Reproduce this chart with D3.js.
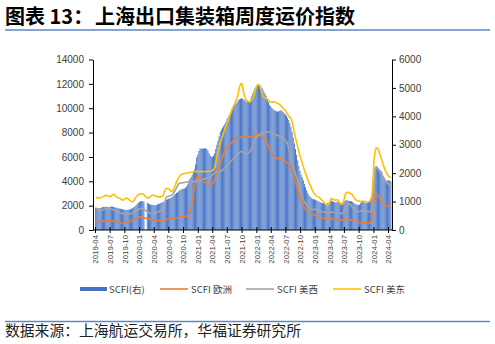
<!DOCTYPE html>
<html><head><meta charset="utf-8">
<script src="https://cdn.jsdelivr.net/npm/d3@7"></script>
<style>body{margin:0;background:#fff;} svg{display:block;}</style>
</head><body><svg id="c" width="495" height="344"></svg>
<script>
// ---------- DATA ----------
const firstWeek = "2019-04-05"; // weekly (Fridays)
const scfi = [
790,780,770,760,775,790,800,810,805,815,820,810,800,
820,830,825,810,800,790,780,770,760,750,740,730,720,
715,705,710,715,720,730,750,780,800,830,870,920,960,
990,1010,1020,1015,1000,null,null,960,930,910,895,890,885,
880,870,880,900,920,930,950,960,980,1000,1030,1060,1080,
1100,1110,1130,1160,1190,1230,1270,1300,1330,1360,1400,1420,1440,
1450,1460,1490,1530,1600,1700,1800,1860,1940,2050,2130,2310,2550,
2640,2780,2870,2860,2880,2860,2870,2880,2850,2800,2700,2620,2570,
2580,2610,2700,2850,3000,3150,3300,3450,3530,3600,3660,3720,3800,
3900,3980,4050,4150,4230,4290,4340,4400,4450,4500,4560,4600,4620,
4640,4620,4600,4560,4530,4520,4510,4530,4600,4700,4800,4900,5000,
5050,5080,5100,5110,5080,5010,4950,4850,4780,4700,4600,4500,4400,
4350,4300,4250,4220,4200,4180,4170,4175,4200,4210,4200,4150,4100,
4070,4020,3950,3870,3760,3620,3450,3250,3050,2850,2650,2450,2250,
2080,1950,1850,1750,1620,1500,1400,1310,1230,1170,1130,1100,1080,
1080,1060,1040,1020,1000,980,960,950,940,930,930,940,950,
970,1000,1030,1010,990,980,970,990,1000,980,960,950,955,
970,1020,1050,1040,1030,1010,1020,1010,990,950,920,900,890,
880,890,940,990,1000,980,960,950,960,990,1000,1100,1250,
1760,2000,2200,2240,2220,2170,2120,2100,2050,1900,1800,1780,1730,
1740,1760,1740,1720];
const europe = [
720,700,680,670,680,700,720,740,760,770,760,750,740,
760,780,770,750,720,700,680,650,620,600,580,560,550,
560,580,620,680,720,760,790,810,840,870,900,960,1020,
1060,1080,1070,1040,1000,980,960,940,920,900,880,860,850,
830,810,790,780,770,760,760,770,780,800,830,860,890,
920,940,950,960,970,980,990,1000,1010,1030,1050,1080,1100,
1100,1110,1120,1130,1150,1200,1350,1700,2300,2900,3500,4000,4350,
4430,4400,4300,4150,4000,3950,3900,3850,3800,3750,3700,3700,3720,
3800,3950,4110,4350,4600,4930,5200,5500,5750,6020,6250,6450,6650,
6800,6900,7000,7100,7150,7250,7350,7420,7500,7550,7580,7600,7620,
7630,7640,7650,7650,7640,7630,7640,7660,7680,7700,7720,7760,7800,
7850,7880,7860,7820,7760,7680,7600,7520,7420,7300,7100,6850,6600,
6400,6250,6150,6050,5980,5920,5880,5870,5860,5850,5820,5780,5720,
5650,5580,5500,5400,5250,5050,4800,4550,4250,3950,3600,3300,3000,
2700,2460,2250,2050,1860,1720,1620,1520,1440,1380,1340,1300,1260,
1220,1180,1140,1100,1060,1030,1000,980,960,950,940,930,920,
920,910,900,890,880,870,860,860,850,840,830,820,810,
830,950,960,920,880,850,830,810,800,790,760,720,690,
650,620,600,580,600,640,660,640,620,600,580,560,900,
1600,2500,2850,2900,2880,2800,2650,2500,2350,2250,2150,2050,2000,
1950,1920,1900,1900];
const usWest = [
1780,1760,1720,1680,1640,1620,1640,1680,1720,1760,1780,1760,1740,
1720,1700,1680,1650,1600,1560,1520,1480,1440,1400,1380,1360,1340,
1320,1300,1290,1290,1310,1330,1360,1400,1450,1520,1580,1640,1700,
1740,1770,1780,1760,1720,1650,1550,1480,1420,1380,1370,1360,1370,
1380,1400,1420,1450,1500,1560,1600,1620,1650,2000,2450,2700,2750,
2780,2820,2850,2880,2950,3100,3280,3450,3650,3800,3850,3860,3870,
3880,3900,3920,3940,3960,3970,3970,3960,3960,3970,3980,3990,4000,
4020,4050,4080,4120,4150,4180,4200,4220,4240,4260,4280,4300,4400,
4500,4600,4700,4750,4790,4800,4810,4830,4860,4900,5000,5100,5200,
5300,5400,5500,5600,5700,5780,5850,5950,6050,6150,6250,6350,6430,
6450,6420,6380,6340,6300,6280,6300,6400,6550,6750,7000,7250,7450,
7600,7680,7720,7800,7880,7950,8000,8030,8060,8080,8070,8050,8020,
8000,7970,7940,7900,7860,7820,7780,7740,7700,7650,7600,7550,7480,
7380,7250,7050,6750,6450,6100,5750,5350,4950,4600,4300,4000,3700,
3350,3050,2750,2500,2300,2150,2050,1950,1850,1780,1720,1680,1650,
1700,1680,1650,1620,1580,1550,1520,1500,1480,1460,1450,1440,1430,
1430,1450,1480,1470,1450,1440,1420,1400,1380,1370,1360,1350,1380,
1500,1700,1850,2000,2100,2150,2100,1950,1800,1700,1620,1580,1550,
1520,1500,1540,1600,1650,1620,1580,1550,1540,1520,1500,1520,1600,
2400,3800,5000,5200,5100,4950,4800,4700,4550,4400,4250,4100,3950,
3850,3750,3700,3650];
const usEast = [
2680,2660,2640,2620,2640,2680,2720,2760,2800,2840,2860,2820,2760,
2720,2800,2900,2940,2860,2760,2680,2620,2600,2580,2500,2450,2480,
2560,2620,2600,2550,2480,2400,2340,2320,2400,2550,2700,2820,2900,
2950,2980,2990,2960,2900,2800,2700,2640,2620,2680,2760,2840,2870,
2840,2800,2760,2740,2720,2720,2740,2760,2800,3100,3300,3420,3400,
3380,3300,3200,3150,3250,3450,3700,3950,4150,4300,4450,4550,4600,
4620,4640,4650,4660,4680,4700,4720,4740,4760,4780,4790,4790,4800,
4800,4800,4790,4790,4780,4790,4800,4800,4800,4800,4810,4820,4850,
4880,4920,5100,5500,6000,6400,6800,7100,7400,7700,8000,8300,8550,
8760,9000,9250,9500,9800,10000,10200,10400,10600,10800,11200,11700,11950,
12050,11700,11200,10900,10700,10600,10550,10500,10550,10700,10850,11000,11400,
11700,11900,11950,11850,11600,11300,11000,10900,10850,10800,10750,10650,10550,
10500,10500,10520,10530,10500,10450,10400,10350,10300,10200,10100,10000,9900,
9800,9650,9500,9350,9250,9150,8900,8500,8000,7600,7200,6800,6400,
6100,5800,5500,5200,4900,4650,4400,4150,3900,3700,3500,3300,3100,
2950,2850,2780,2740,2700,2600,2500,2400,2300,2200,2100,2050,2080,
2200,2400,2600,2550,2480,2450,2460,2480,2440,2300,2150,2100,2150,
2400,2800,3050,3100,3080,3050,3000,2950,2850,2700,2550,2450,2400,
2380,2360,2340,2350,2380,2360,2340,2320,2300,2320,2350,2500,2750,
3900,5750,6500,6750,6700,6550,6300,6000,5700,5400,5150,4900,4700,
4550,4400,4350,4300];
const xTickLabels = ["2019-04","2019-07","2019-10","2020-01","2020-04","2020-07","2020-10",
"2021-01","2021-04","2021-07","2021-10","2022-01","2022-04","2022-07","2022-10",
"2023-01","2023-04","2023-07","2023-10","2024-01","2024-04"];
const leftTicks = [0,2000,4000,6000,8000,10000,12000,14000];
const rightTicks = [0,1000,2000,3000,4000,5000,6000];
const seriesNames = ["SCFI(右)","SCFI 欧洲","SCFI 美西","SCFI 美东"];
const seriesColors = ["#4472C4","#ED7D31","#A5A5A5","#FFC000"];
const titleLead = "图表 13：";
const titleText = "上海出口集装箱周度运价指数";
const sourceText = "数据来源：上海航运交易所，华福证券研究所";

// ---------- CHART ----------
const svg = d3.select("#c");
const parseM = d3.timeParse("%Y-%m");
const start = d3.timeParse("%Y-%m-%d")(firstWeek);
const dates = scfi.map((_, i) => d3.timeDay.offset(start, 7 * i));
const tickDates = xTickLabels.map(parseM);

const plot = {left: 93, right: 392, top: 59.5, bottom: 230};
const x = d3.scaleTime().domain([tickDates[0], tickDates[tickDates.length - 1]]).range([95, 388]);
const yL = d3.scaleLinear().domain([0, 14000]).range([plot.bottom, plot.top]);
const yR = d3.scaleLinear().domain([0, 6000]).range([plot.bottom, plot.top]);

// title
const tf = "'Noto Sans CJK SC', sans-serif";
svg.append("text").attr("x", 5).attr("y", 24).attr("font-family", tf).attr("font-weight", "bold")
  .attr("font-size", 20).attr("fill", "#000").text(titleLead);
svg.append("text").attr("x", 95).attr("y", 24).attr("font-family", tf).attr("font-weight", "bold")
  .attr("font-size", 20).attr("fill", "#000").text(titleText);
svg.append("line").attr("x1", 5).attr("x2", 490).attr("y1", 30).attr("y2", 30)
  .attr("stroke", "#5B86C8").attr("stroke-width", 1.5);

// bars
const step = x(dates[1]) - x(dates[0]);
const bw = step * 0.85;
svg.append("g").selectAll("rect").data(scfi.map((v, i) => ({v, d: dates[i]})).filter(o => o.v != null))
  .join("rect")
  .attr("x", o => x(o.d) - bw / 2).attr("width", bw)
  .attr("y", o => yR(o.v)).attr("height", o => yR(0) - yR(o.v))
  .attr("fill", seriesColors[0]);

// lines
const line = d3.line().x((v, i) => x(dates[i])).y(v => yL(v)).curve(d3.curveLinear);
[[europe, 1], [usWest, 2], [usEast, 3]].forEach(([arr, ci]) => {
  svg.append("path").attr("d", line(arr)).attr("fill", "none")
    .attr("stroke", seriesColors[ci]).attr("stroke-width", 1.6).attr("stroke-linejoin", "round");
});

// axes
const af = "'Liberation Sans', Arial, sans-serif";
const gL = svg.append("g").attr("transform", `translate(${plot.left},0)`)
  .call(d3.axisLeft(yL).tickValues(leftTicks).tickFormat(d3.format("d")).tickSizeInner(4).tickSizeOuter(0).tickPadding(5));
const gR = svg.append("g").attr("transform", `translate(${plot.right},0)`)
  .call(d3.axisRight(yR).tickValues(rightTicks).tickFormat(d3.format("d")).tickSizeInner(4).tickSizeOuter(0).tickPadding(3));
[gL, gR].forEach(g => {
  g.selectAll("path.domain").attr("stroke", "#000");
  g.selectAll("line").attr("stroke", "#000");
  g.selectAll("text").attr("font-family", af).attr("font-size", 10).attr("fill", "#404040");
});
const gX = svg.append("g").attr("transform", `translate(0,${plot.bottom})`)
  .call(d3.axisBottom(x).tickValues(tickDates).tickFormat(d3.timeFormat("%Y-%m")).tickSizeInner(3).tickSizeOuter(0).tickPadding(0));
gX.select("path.domain").remove();
gX.append("line").attr("x1", plot.left).attr("x2", plot.right).attr("stroke", "#000");
gX.selectAll(".tick line").attr("y1", -3).attr("y2", 3).attr("stroke", "#000");
gX.selectAll(".tick text").attr("transform", "rotate(-90)").attr("x", -5).attr("y", 0)
  .attr("dy", "0.35em").attr("text-anchor", "end")
  .attr("font-family", af).attr("font-size", 7.8).attr("fill", "#404040");

// legend
const lg = svg.append("g").attr("font-family", tf).attr("font-size", 9.5).attr("fill", "#404040");
const legendX = [80, 160, 246, 333];
seriesNames.forEach((name, i) => {
  const g = lg.append("g").attr("transform", `translate(${legendX[i]},289)`);
  if (i === 0) g.append("rect").attr("x", 0).attr("y", -2).attr("width", 27).attr("height", 4).attr("fill", seriesColors[0]);
  else g.append("line").attr("x1", 0).attr("x2", 28).attr("stroke", seriesColors[i]).attr("stroke-width", 1.6);
  g.append("text").attr("x", i === 0 ? 29 : 31).attr("y", 3.5).text(name);
});

// footer
svg.append("line").attr("x1", 5).attr("x2", 490).attr("y1", 321.5).attr("y2", 321.5)
  .attr("stroke", "#5B86C8").attr("stroke-width", 1.5);
svg.append("text").attr("x", 5).attr("y", 336).attr("font-family", tf)
  .attr("font-size", 14.8).attr("fill", "#222").text(sourceText);
</script></body></html>
